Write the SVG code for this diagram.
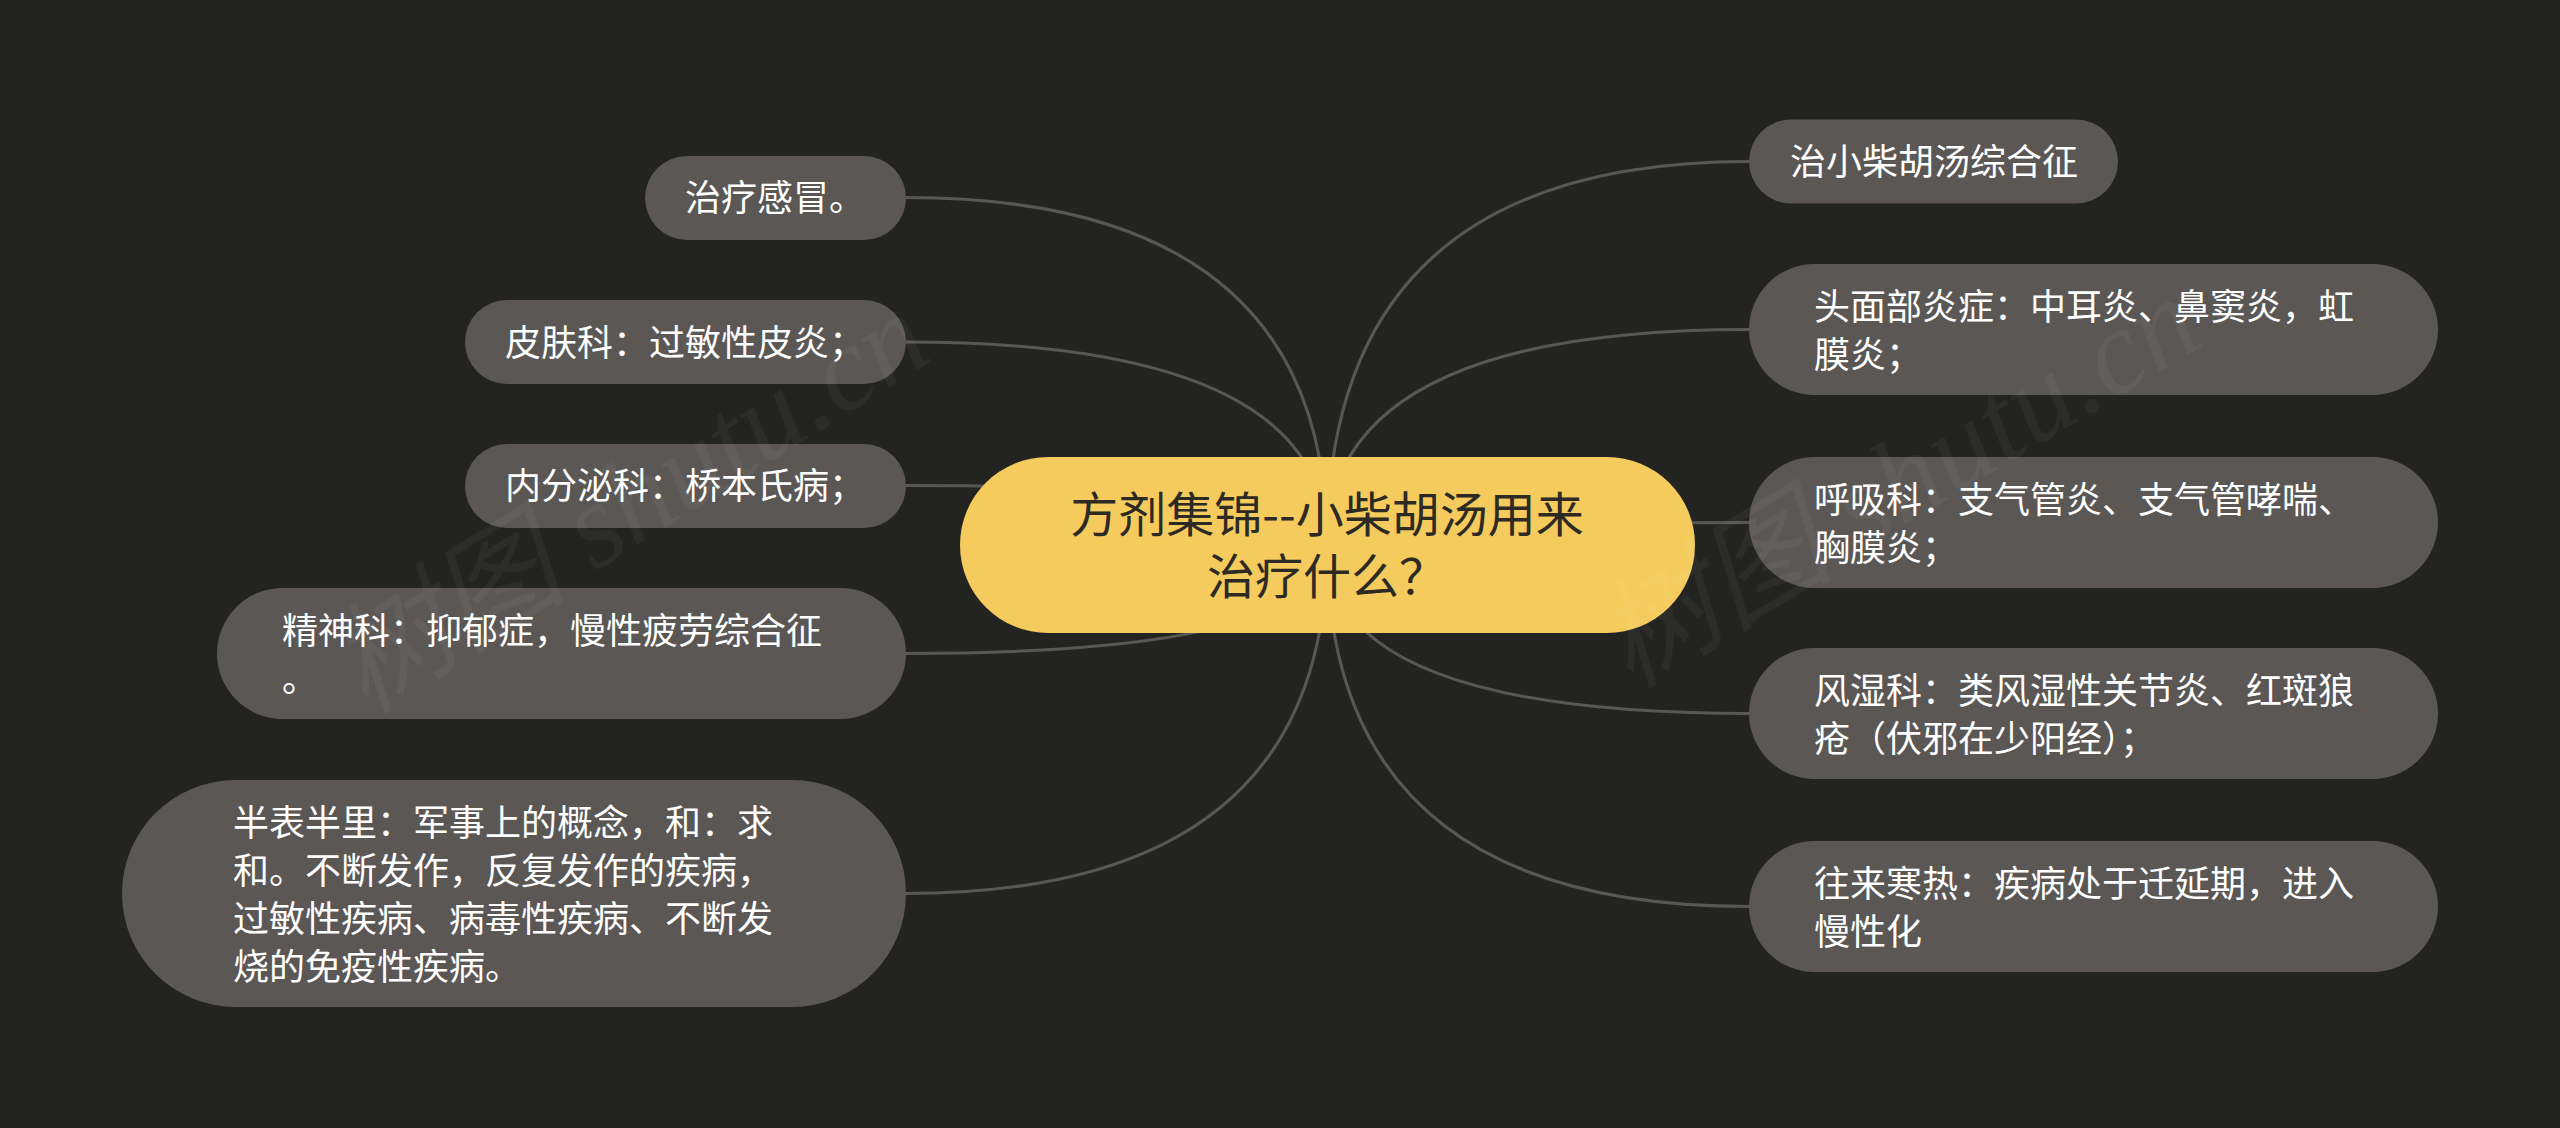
<svg xmlns="http://www.w3.org/2000/svg" width="2560" height="1128" viewBox="0 0 2560 1128">
<style>
.bg{fill:#232321}
.edge{fill:none;stroke:#595754;stroke-width:3}
.box{fill:#5a5755}
.root{fill:#f4cb5c}
.t{font-family:"Noto Sans CJK SC","Noto Sans",sans-serif;font-size:36px;fill:#ffffff}
.rt{font-family:"Noto Sans CJK SC","Noto Sans",sans-serif;font-size:48px;fill:#2d2a24;text-anchor:middle}
.wm{font-family:"Liberation Serif","Noto Sans CJK SC",serif;font-style:italic;font-size:120px;fill:#ffffff;fill-opacity:0.045}
</style>
<rect class="bg" x="0" y="0" width="2560" height="1128"/>
<g id="connectors">
<path class="edge" d="M1327,545 Q1327,197.5 906,197.5"/>
<path class="edge" d="M1327,545 Q1327,342 906,342"/>
<path class="edge" d="M1327,545 Q1327,485.5 906,485.5"/>
<path class="edge" d="M1327,545 Q1327,653.5 906,653.5"/>
<path class="edge" d="M1327,545 Q1327,893.5 906,893.5"/>
<path class="edge" d="M1327,545 Q1327,161.5 1749,161.5"/>
<path class="edge" d="M1327,545 Q1327,329.5 1749,329.5"/>
<path class="edge" d="M1327,545 Q1327,522.5 1749,522.5"/>
<path class="edge" d="M1327,545 Q1327,713.5 1749,713.5"/>
<path class="edge" d="M1327,545 Q1327,906.5 1749,906.5"/>
</g>
<g id="root">
<rect class="root" x="960" y="457" width="735" height="176" rx="88"/>
<text class="rt" x="1327" y="532">方剂集锦--小柴胡汤用来</text>
<text class="rt" x="1327" y="594">治疗什么？</text>
</g>
<g id="n-ganmao">
<rect class="box" x="645" y="156" width="261" height="84" rx="42"/>
<text class="t" x="685" y="211">治疗感冒。</text>
</g>
<g id="n-pifu">
<rect class="box" x="465" y="300" width="441" height="84" rx="42"/>
<text class="t" x="505" y="356">皮肤科：过敏性皮炎；</text>
</g>
<g id="n-neifenmi">
<rect class="box" x="465" y="444" width="441" height="84" rx="42"/>
<text class="t" x="505" y="499">内分泌科：桥本氏病；</text>
</g>
<g id="n-jingshen">
<rect class="box" x="217" y="588" width="689" height="131" rx="65.5"/>
<text class="t" x="282" y="644">精神科：抑郁症，慢性疲劳综合征</text>
<text class="t" x="282" y="692">。</text>
</g>
<g id="n-banbiao">
<rect class="box" x="122" y="780" width="784" height="227" rx="113.5"/>
<text class="t" x="233" y="836">半表半里：军事上的概念，和：求</text>
<text class="t" x="233" y="884">和。不断发作，反复发作的疾病，</text>
<text class="t" x="233" y="932">过敏性疾病、病毒性疾病、不断发</text>
<text class="t" x="233" y="980">烧的免疫性疾病。</text>
</g>
<g id="n-zonghezheng">
<rect class="box" x="1749" y="119.5" width="369" height="84" rx="42"/>
<text class="t" x="1790" y="175">治小柴胡汤综合征</text>
</g>
<g id="n-toumian">
<rect class="box" x="1749" y="264" width="689" height="131" rx="65.5"/>
<text class="t" x="1814" y="320">头面部炎症：中耳炎、鼻窦炎，虹</text>
<text class="t" x="1814" y="368">膜炎；</text>
</g>
<g id="n-huxi">
<rect class="box" x="1749" y="457" width="689" height="131" rx="65.5"/>
<text class="t" x="1814" y="513">呼吸科：支气管炎、支气管哮喘、</text>
<text class="t" x="1814" y="561">胸膜炎；</text>
</g>
<g id="n-fengshi">
<rect class="box" x="1749" y="648" width="689" height="131" rx="65.5"/>
<text class="t" x="1814" y="704">风湿科：类风湿性关节炎、红斑狼</text>
<text class="t" x="1814" y="752">疮（伏邪在少阳经）；</text>
</g>
<g id="n-wanglai">
<rect class="box" x="1749" y="841" width="689" height="131" rx="65.5"/>
<text class="t" x="1814" y="897">往来寒热：疾病处于迁延期，进入</text>
<text class="t" x="1814" y="945">慢性化</text>
</g>
<g id="watermark">
<text class="wm" transform="translate(365,715) rotate(-32)">树图 shutu.cn</text>
<text class="wm" transform="translate(1630,690) rotate(-31)">树图 shutu.cn</text>
</g>
</svg>
